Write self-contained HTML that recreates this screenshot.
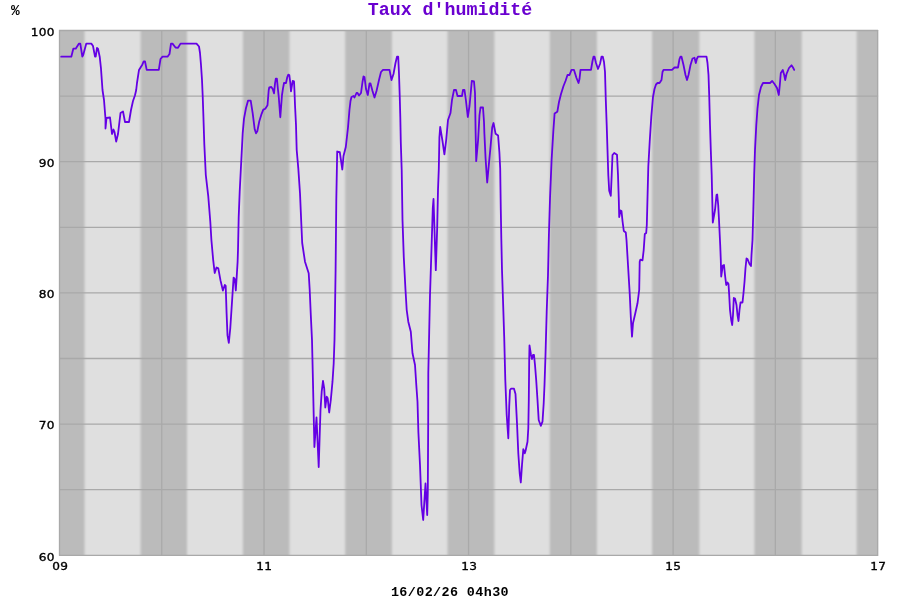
<!DOCTYPE html>
<html><head><meta charset="utf-8"><title>Taux d'humidité</title>
<style>
html,body{margin:0;padding:0;background:#fff;}
body{width:900px;height:600px;position:relative;overflow:hidden;font-family:"Liberation Mono",monospace;}
svg{position:absolute;left:0;top:0;}
.t{position:absolute;left:0;width:900px;text-align:center;top:0px;font:bold 18.3px/20px "Liberation Mono",monospace;color:#6a00d0;white-space:pre;}
.pc{position:absolute;left:11.2px;top:3.2px;font:bold 14.5px/16px "Liberation Mono",monospace;color:#000;}
.yl{position:absolute;left:0;width:54.8px;text-align:right;font:11px/14px "DejaVu Sans",sans-serif;color:#000;letter-spacing:0.3px;-webkit-text-stroke:0.35px #000;transform:scaleX(1.1);transform-origin:100% 50%;}
.t,.pc,.yl,.xl,.b{will-change:transform;}
.xl{position:absolute;top:559.7px;width:40px;text-align:center;font:11px/14px "DejaVu Sans",sans-serif;color:#000;letter-spacing:0.3px;text-indent:0.3px;-webkit-text-stroke:0.35px #000;transform:scaleX(1.1);transform-origin:50% 50%;}
.b{position:absolute;left:0.4px;width:900px;text-align:center;top:585px;font:bold 13.4px/16px "Liberation Mono",monospace;color:#000;white-space:pre;letter-spacing:0.4px;}
</style></head><body>
<svg width="900" height="600" viewBox="0 0 900 600">
<defs><clipPath id="cp"><rect x="59" y="30" width="819.1" height="525.8"/></clipPath><filter id="bl" x="-5%" y="-5%" width="110%" height="110%"><feGaussianBlur stdDeviation="0.9 0"/></filter></defs>
<rect x="59" y="30" width="819.1" height="525.8" fill="#dfdfdf"/>
<g clip-path="url(#cp)"><g filter="url(#bl)">
<rect x="40.00" y="0" width="44.60" height="600" fill="#bbbbbb"/>
<rect x="140.60" y="0" width="46.45" height="600" fill="#bbbbbb"/>
<rect x="242.90" y="0" width="46.60" height="600" fill="#bbbbbb"/>
<rect x="345.20" y="0" width="46.75" height="600" fill="#bbbbbb"/>
<rect x="447.50" y="0" width="46.90" height="600" fill="#bbbbbb"/>
<rect x="549.80" y="0" width="47.05" height="600" fill="#bbbbbb"/>
<rect x="652.10" y="0" width="47.20" height="600" fill="#bbbbbb"/>
<rect x="754.40" y="0" width="47.35" height="600" fill="#bbbbbb"/>
<rect x="856.70" y="0" width="43.30" height="600" fill="#bbbbbb"/>
</g></g>
<line x1="59" x2="878.1" y1="30.50" y2="30.50" stroke="#a9a9a9" stroke-width="1.3"/>
<line x1="59" x2="878.1" y1="96.10" y2="96.10" stroke="#a9a9a9" stroke-width="1.3"/>
<line x1="59" x2="878.1" y1="161.70" y2="161.70" stroke="#a9a9a9" stroke-width="1.3"/>
<line x1="59" x2="878.1" y1="227.30" y2="227.30" stroke="#a9a9a9" stroke-width="1.3"/>
<line x1="59" x2="878.1" y1="292.90" y2="292.90" stroke="#a9a9a9" stroke-width="1.3"/>
<line x1="59" x2="878.1" y1="358.50" y2="358.50" stroke="#a9a9a9" stroke-width="1.3"/>
<line x1="59" x2="878.1" y1="424.10" y2="424.10" stroke="#a9a9a9" stroke-width="1.3"/>
<line x1="59" x2="878.1" y1="489.70" y2="489.70" stroke="#a9a9a9" stroke-width="1.3"/>
<line x1="59" x2="878.1" y1="555.30" y2="555.30" stroke="#a9a9a9" stroke-width="1.3"/>
<line x1="59.50" x2="59.50" y1="30" y2="555.8" stroke="#a9a9a9" stroke-width="1.3"/>
<line x1="161.76" x2="161.76" y1="30" y2="555.8" stroke="#a9a9a9" stroke-width="1.3"/>
<line x1="264.02" x2="264.02" y1="30" y2="555.8" stroke="#a9a9a9" stroke-width="1.3"/>
<line x1="366.29" x2="366.29" y1="30" y2="555.8" stroke="#a9a9a9" stroke-width="1.3"/>
<line x1="468.55" x2="468.55" y1="30" y2="555.8" stroke="#a9a9a9" stroke-width="1.3"/>
<line x1="570.81" x2="570.81" y1="30" y2="555.8" stroke="#a9a9a9" stroke-width="1.3"/>
<line x1="673.08" x2="673.08" y1="30" y2="555.8" stroke="#a9a9a9" stroke-width="1.3"/>
<line x1="775.34" x2="775.34" y1="30" y2="555.8" stroke="#a9a9a9" stroke-width="1.3"/>
<line x1="877.60" x2="877.60" y1="30" y2="555.8" stroke="#a9a9a9" stroke-width="1.3"/>
<polyline points="61.2,56.7 71.3,56.7 73.3,48.7 75.7,48.7 79.0,43.6 80.3,43.6 82.3,56.7 83.2,55.0 86.3,43.6 91.3,43.6 93.0,46.0 95.0,56.7 95.7,56.7 97.0,48.0 98.0,48.7 99.7,56.7 101.0,68.7 102.5,90.0 104.0,100.0 105.5,119.0 105.5,128.5 106.5,118.0 110.0,117.5 112.0,134.0 113.5,129.5 114.5,132.0 116.2,141.5 118.0,134.0 120.5,113.0 123.0,111.5 125.0,122.0 129.0,122.0 131.0,110.0 133.0,101.0 135.0,95.3 136.2,90.0 137.0,83.0 139.0,69.9 142.3,64.7 143.7,61.3 145.0,61.3 146.7,69.9 158.8,69.9 160.5,59.0 162.5,56.7 167.5,56.7 169.5,54.0 171.0,43.6 172.5,43.6 175.5,47.5 178.0,47.8 180.5,43.6 196.5,43.6 199.0,46.5 200.0,53.0 201.0,65.0 202.0,80.0 202.7,96.0 203.3,113.3 204.3,144.0 205.8,175.0 208.3,196.7 210.3,221.7 211.4,240.0 213.2,260.2 214.7,273.0 216.5,267.5 218.3,268.4 220.5,280.4 222.9,290.5 224.8,285.0 225.7,285.9 226.6,313.4 227.5,335.4 228.8,342.8 230.3,328.0 232.1,300.5 233.6,277.6 234.9,279.4 235.8,290.5 236.7,276.7 237.6,262.0 238.0,250.0 238.7,216.7 239.7,191.7 240.8,170.0 242.7,133.3 244.0,118.7 246.0,108.0 248.0,100.7 250.7,100.7 252.7,113.3 254.7,129.3 256.0,133.3 257.3,131.3 259.3,121.3 261.3,114.7 263.3,109.6 265.3,108.7 267.5,105.3 268.7,90.3 269.3,87.3 271.3,87.0 272.7,89.0 274.0,93.3 275.0,83.7 275.8,78.7 276.9,78.7 277.7,87.0 278.7,96.3 280.3,117.3 282.0,95.0 283.0,88.3 284.0,83.0 286.0,83.0 287.3,77.0 288.3,74.7 289.3,75.0 290.3,83.0 291.0,91.3 292.0,85.0 292.7,81.0 294.0,81.3 294.5,91.7 295.0,105.0 296.0,125.0 296.7,150.0 298.3,168.3 300.0,193.3 301.3,223.3 302.2,243.0 305.0,261.7 308.7,273.3 309.7,290.0 310.8,315.0 312.0,340.0 313.0,383.3 314.4,447.0 316.5,417.5 318.7,467.0 320.5,410.0 321.7,391.7 323.0,380.8 324.2,388.3 325.3,407.5 326.7,396.7 327.7,398.3 329.2,412.5 330.8,400.0 332.5,381.7 333.7,363.3 334.5,340.0 335.0,310.0 335.6,270.0 336.3,200.0 337.2,151.5 339.8,152.2 342.3,169.5 343.5,156.0 345.8,147.0 348.0,127.5 349.5,109.5 350.5,101.0 351.5,97.0 353.5,96.0 354.5,97.5 356.5,93.0 357.5,93.0 359.0,95.5 361.0,93.0 362.5,82.0 363.5,76.5 364.5,77.0 366.0,89.0 367.8,95.0 369.5,83.5 370.5,83.5 372.5,91.0 374.5,97.5 376.5,91.0 379.0,80.0 381.0,72.0 383.0,69.9 389.5,69.9 391.5,80.0 393.5,74.0 395.5,63.0 397.0,56.7 398.2,56.7 399.0,74.0 399.7,95.0 400.3,117.0 400.8,142.5 401.7,170.0 402.5,220.0 403.8,257.5 405.5,290.0 406.7,310.0 408.3,321.7 410.8,331.7 412.5,353.3 415.0,365.0 416.3,385.0 417.5,401.7 418.4,432.5 420.0,465.0 421.5,505.0 423.2,520.0 425.5,483.5 427.2,515.0 427.8,492.0 428.2,421.7 428.3,373.3 429.2,331.7 430.0,295.0 431.7,242.5 432.8,208.0 433.5,199.0 435.8,270.2 437.2,227.5 438.0,190.0 438.8,168.8 439.4,137.5 440.2,126.9 442.5,141.2 444.4,154.4 446.2,140.0 448.0,120.0 450.5,113.0 452.0,100.0 454.0,90.0 456.0,90.0 457.5,96.0 462.0,96.0 463.0,90.0 464.5,90.0 466.0,101.0 467.8,117.0 469.5,106.0 471.0,90.0 471.8,81.0 474.0,81.5 475.0,93.0 475.6,131.2 476.2,161.2 478.1,140.0 479.5,115.0 480.5,107.5 483.0,107.5 484.0,122.0 484.4,133.8 485.6,158.8 487.2,182.5 488.8,165.0 490.6,146.2 492.2,127.5 493.5,123.0 495.6,133.8 498.1,135.6 499.4,152.5 500.2,168.8 500.8,210.0 501.3,238.3 502.0,270.0 503.0,300.0 504.2,336.7 505.3,380.0 506.7,415.0 508.3,438.3 509.2,406.7 510.0,390.0 511.0,388.7 514.0,388.7 515.5,394.0 517.0,423.3 518.3,453.3 519.7,473.3 520.8,482.5 522.0,465.0 523.3,449.2 524.8,453.3 525.5,451.0 527.5,441.7 528.3,428.3 528.8,400.0 529.2,360.0 529.5,345.5 531.0,355.0 532.0,359.0 533.0,355.0 534.0,355.0 535.0,365.0 536.2,380.0 537.5,400.0 538.7,420.0 540.8,425.8 542.5,421.7 543.7,403.3 544.5,385.0 545.5,355.0 546.7,311.7 548.0,275.0 548.9,235.0 550.1,196.0 551.6,160.0 553.4,130.0 554.6,113.5 557.3,111.8 559.0,102.0 561.0,94.0 563.5,86.0 565.5,81.0 567.5,75.0 569.5,75.0 571.5,69.9 574.0,69.9 576.5,78.0 578.5,83.0 579.5,79.0 580.5,69.9 591.0,69.9 592.5,61.0 593.5,56.7 594.5,56.7 596.0,63.0 598.0,69.0 600.0,64.0 601.5,56.7 602.8,56.7 604.0,62.0 605.0,72.0 605.8,100.0 606.7,125.0 607.5,150.0 608.3,175.0 609.2,190.8 610.8,195.8 611.7,175.0 612.5,155.0 614.2,153.0 617.0,154.7 618.0,175.0 618.8,200.0 619.2,217.0 620.5,210.5 621.5,211.0 622.5,221.0 623.8,231.0 625.8,232.5 626.5,240.0 628.0,265.0 629.7,293.3 630.8,316.7 632.0,336.7 633.0,323.3 635.3,313.3 637.5,303.3 639.2,290.0 639.7,261.7 640.3,259.7 642.5,260.3 643.7,250.0 644.8,234.0 646.2,233.0 646.8,225.0 647.2,210.0 648.3,166.7 649.7,141.7 651.3,116.7 653.0,97.0 654.5,89.0 656.0,84.5 657.5,83.0 659.5,83.0 661.5,80.0 662.5,72.0 663.5,69.9 672.0,69.9 674.5,67.5 678.0,67.5 679.5,59.0 680.5,56.7 681.5,56.7 683.5,65.0 685.5,75.0 687.0,80.0 688.5,75.0 690.5,65.0 692.5,58.5 694.5,57.8 695.8,63.0 696.8,59.0 698.0,56.7 706.5,56.7 707.5,63.0 708.5,75.0 709.2,95.0 710.0,125.0 710.8,150.0 711.7,175.0 712.5,210.0 712.8,222.5 715.0,210.0 716.5,195.0 717.2,194.5 718.2,205.0 719.0,220.0 720.2,245.0 720.8,260.0 721.2,276.5 722.8,265.5 724.0,265.0 725.0,275.0 726.2,285.0 727.5,282.5 728.5,284.0 729.2,295.0 730.0,310.0 731.2,320.0 732.2,325.0 733.0,315.0 733.8,298.0 735.0,298.5 736.5,305.0 737.5,315.0 738.5,321.0 739.5,310.0 740.5,302.5 742.5,302.5 743.5,293.0 744.5,282.0 745.5,268.0 746.5,258.5 747.5,259.0 749.5,264.0 751.0,266.0 751.5,255.0 752.5,240.0 753.2,215.0 754.2,175.0 755.0,150.0 756.3,125.0 757.5,108.3 759.0,95.0 761.0,87.0 763.0,83.0 765.0,83.0 770.0,83.0 772.2,81.0 774.5,84.0 777.0,88.0 778.8,95.0 779.8,85.0 780.8,73.0 782.8,69.9 784.2,75.0 785.2,80.0 786.5,74.0 789.0,68.0 791.5,65.3 793.0,67.5 794.2,69.9" fill="none" stroke="#6400e4" stroke-width="1.8" stroke-linejoin="round" stroke-linecap="round"/>
</svg>
<div class="t">Taux d'humidité</div>
<div class="pc">%</div>
<div class="yl" style="top:25.7px">100</div><div class="yl" style="top:156.9px">90</div><div class="yl" style="top:288.1px">80</div><div class="yl" style="top:419.3px">70</div><div class="yl" style="top:550.5px">60</div>
<div class="xl" style="left:39.5px">09</div><div class="xl" style="left:244.0px">11</div><div class="xl" style="left:448.6px">13</div><div class="xl" style="left:653.1px">15</div><div class="xl" style="left:857.6px">17</div>
<div class="b">16/02/26 04h30</div>
</body></html>
